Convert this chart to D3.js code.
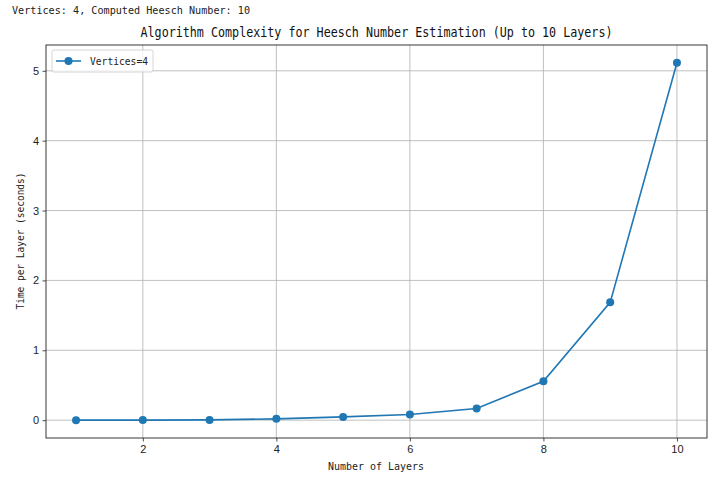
<!DOCTYPE html>
<html><head><meta charset="utf-8">
<script src="https://cdn.jsdelivr.net/npm/d3@7"></script>
<style>body{margin:0;background:#fff;} svg{display:block;}</style>
</head><body>
<svg id="c" width="720" height="480"></svg>
<script>
const layers = [1,2,3,4,5,6,7,8,9,10];
const times = [0.0005,0.001,0.004,0.019,0.047,0.081,0.167,0.557,1.686,5.114];
const xTicks = [2,4,6,8,10];
const yTicks = [0,1,2,3,4,5];
const seriesName = "Vertices=4";
const topText = "Vertices: 4, Computed Heesch Number: 10";
const title = "Algorithm Complexity for Heesch Number Estimation (Up to 10 Layers)";
const xLabel = "Number of Layers";
const yLabel = "Time per Layer (seconds)";

const mono = "'DejaVu Sans Mono', monospace";
const sans = "'Liberation Sans', Arial, sans-serif";
const color = "#1f77b4";
const m = {l:46, r:707, t:45, b:438};
const svg = d3.select("#c");

const x = d3.scaleLinear().domain([0.55,10.45]).range([m.l,m.r]);
const yMin = -0.2553, yMax = 5.3693;
const y = d3.scaleLinear().domain([yMin,yMax]).range([m.b,m.t]);

// grid
const g = svg.append("g");
g.selectAll(".gx").data(xTicks).enter().append("line")
 .attr("x1",d=>x(d)).attr("x2",d=>x(d)).attr("y1",m.t).attr("y2",m.b)
 .attr("stroke","#b0b0b0").attr("stroke-width",0.8);
g.selectAll(".gy").data(yTicks).enter().append("line")
 .attr("y1",d=>y(d)).attr("y2",d=>y(d)).attr("x1",m.l).attr("x2",m.r)
 .attr("stroke","#b0b0b0").attr("stroke-width",0.8);

// axes
const xa = svg.append("g").attr("transform",`translate(0,${m.b})`)
 .call(d3.axisBottom(x).tickValues(xTicks).tickSize(3.5).tickPadding(3.5).tickFormat(d3.format("d")));
const ya = svg.append("g").attr("transform",`translate(${m.l},0)`)
 .call(d3.axisLeft(y).tickValues(yTicks).tickSize(3.5).tickPadding(3.5).tickFormat(d3.format("d")));
[xa,ya].forEach(a=>{a.select(".domain").remove();
 a.selectAll("text").attr("font-family",sans).attr("font-size",11).attr("fill","#222");
 a.selectAll("line").attr("stroke","#222").attr("stroke-width",0.8);});

// frame
svg.append("rect").attr("x",m.l).attr("y",m.t).attr("width",m.r-m.l).attr("height",m.b-m.t)
 .attr("fill","none").attr("stroke","#222").attr("stroke-width",0.9);

// line
const line = d3.line().x((d,i)=>x(layers[i])).y(d=>y(d));
svg.append("path").datum(times).attr("d",line).attr("fill","none")
 .attr("stroke",color).attr("stroke-width",1.6);
svg.selectAll(".pt").data(times).enter().append("circle")
 .attr("cx",(d,i)=>x(layers[i])).attr("cy",d=>y(d)).attr("r",4).attr("fill",color);

// legend
const lg = svg.append("g");
lg.append("rect").attr("x",52).attr("y",50).attr("width",101).attr("height",22).attr("rx",2)
 .attr("fill","#fff").attr("fill-opacity",0.8).attr("stroke","#ccc").attr("stroke-width",0.8);
lg.append("line").attr("x1",56).attr("x2",81).attr("y1",61).attr("y2",61).attr("stroke",color).attr("stroke-width",1.6);
lg.append("circle").attr("cx",68.5).attr("cy",61).attr("r",4).attr("fill",color);
lg.append("text").attr("x",90).attr("y",64.5).text(seriesName)
 .attr("font-family",mono).attr("font-size",10.5).attr("textLength",58).attr("lengthAdjust","spacingAndGlyphs").attr("fill","#222");

// texts
svg.append("text").attr("x",12).attr("y",14).text(topText)
 .attr("font-family",mono).attr("font-size",10.8).attr("textLength",238).attr("lengthAdjust","spacingAndGlyphs").attr("fill","#222");
svg.append("text").attr("x",(m.l+m.r)/2 - 236).attr("y",37).text(title)
 .attr("font-family",mono).attr("font-size",13.5).attr("textLength",472).attr("lengthAdjust","spacingAndGlyphs").attr("fill","#111");
svg.append("text").attr("x",328).attr("y",470).text(xLabel)
 .attr("font-family",mono).attr("font-size",10.8).attr("textLength",96).attr("lengthAdjust","spacingAndGlyphs").attr("fill","#222");
svg.append("text").attr("transform",`translate(24,${(m.t+m.b)/2 + 68}) rotate(-90)`).text(yLabel)
 .attr("font-family",mono).attr("font-size",10.5).attr("textLength",137).attr("lengthAdjust","spacingAndGlyphs").attr("fill","#222");
</script>
</body></html>
